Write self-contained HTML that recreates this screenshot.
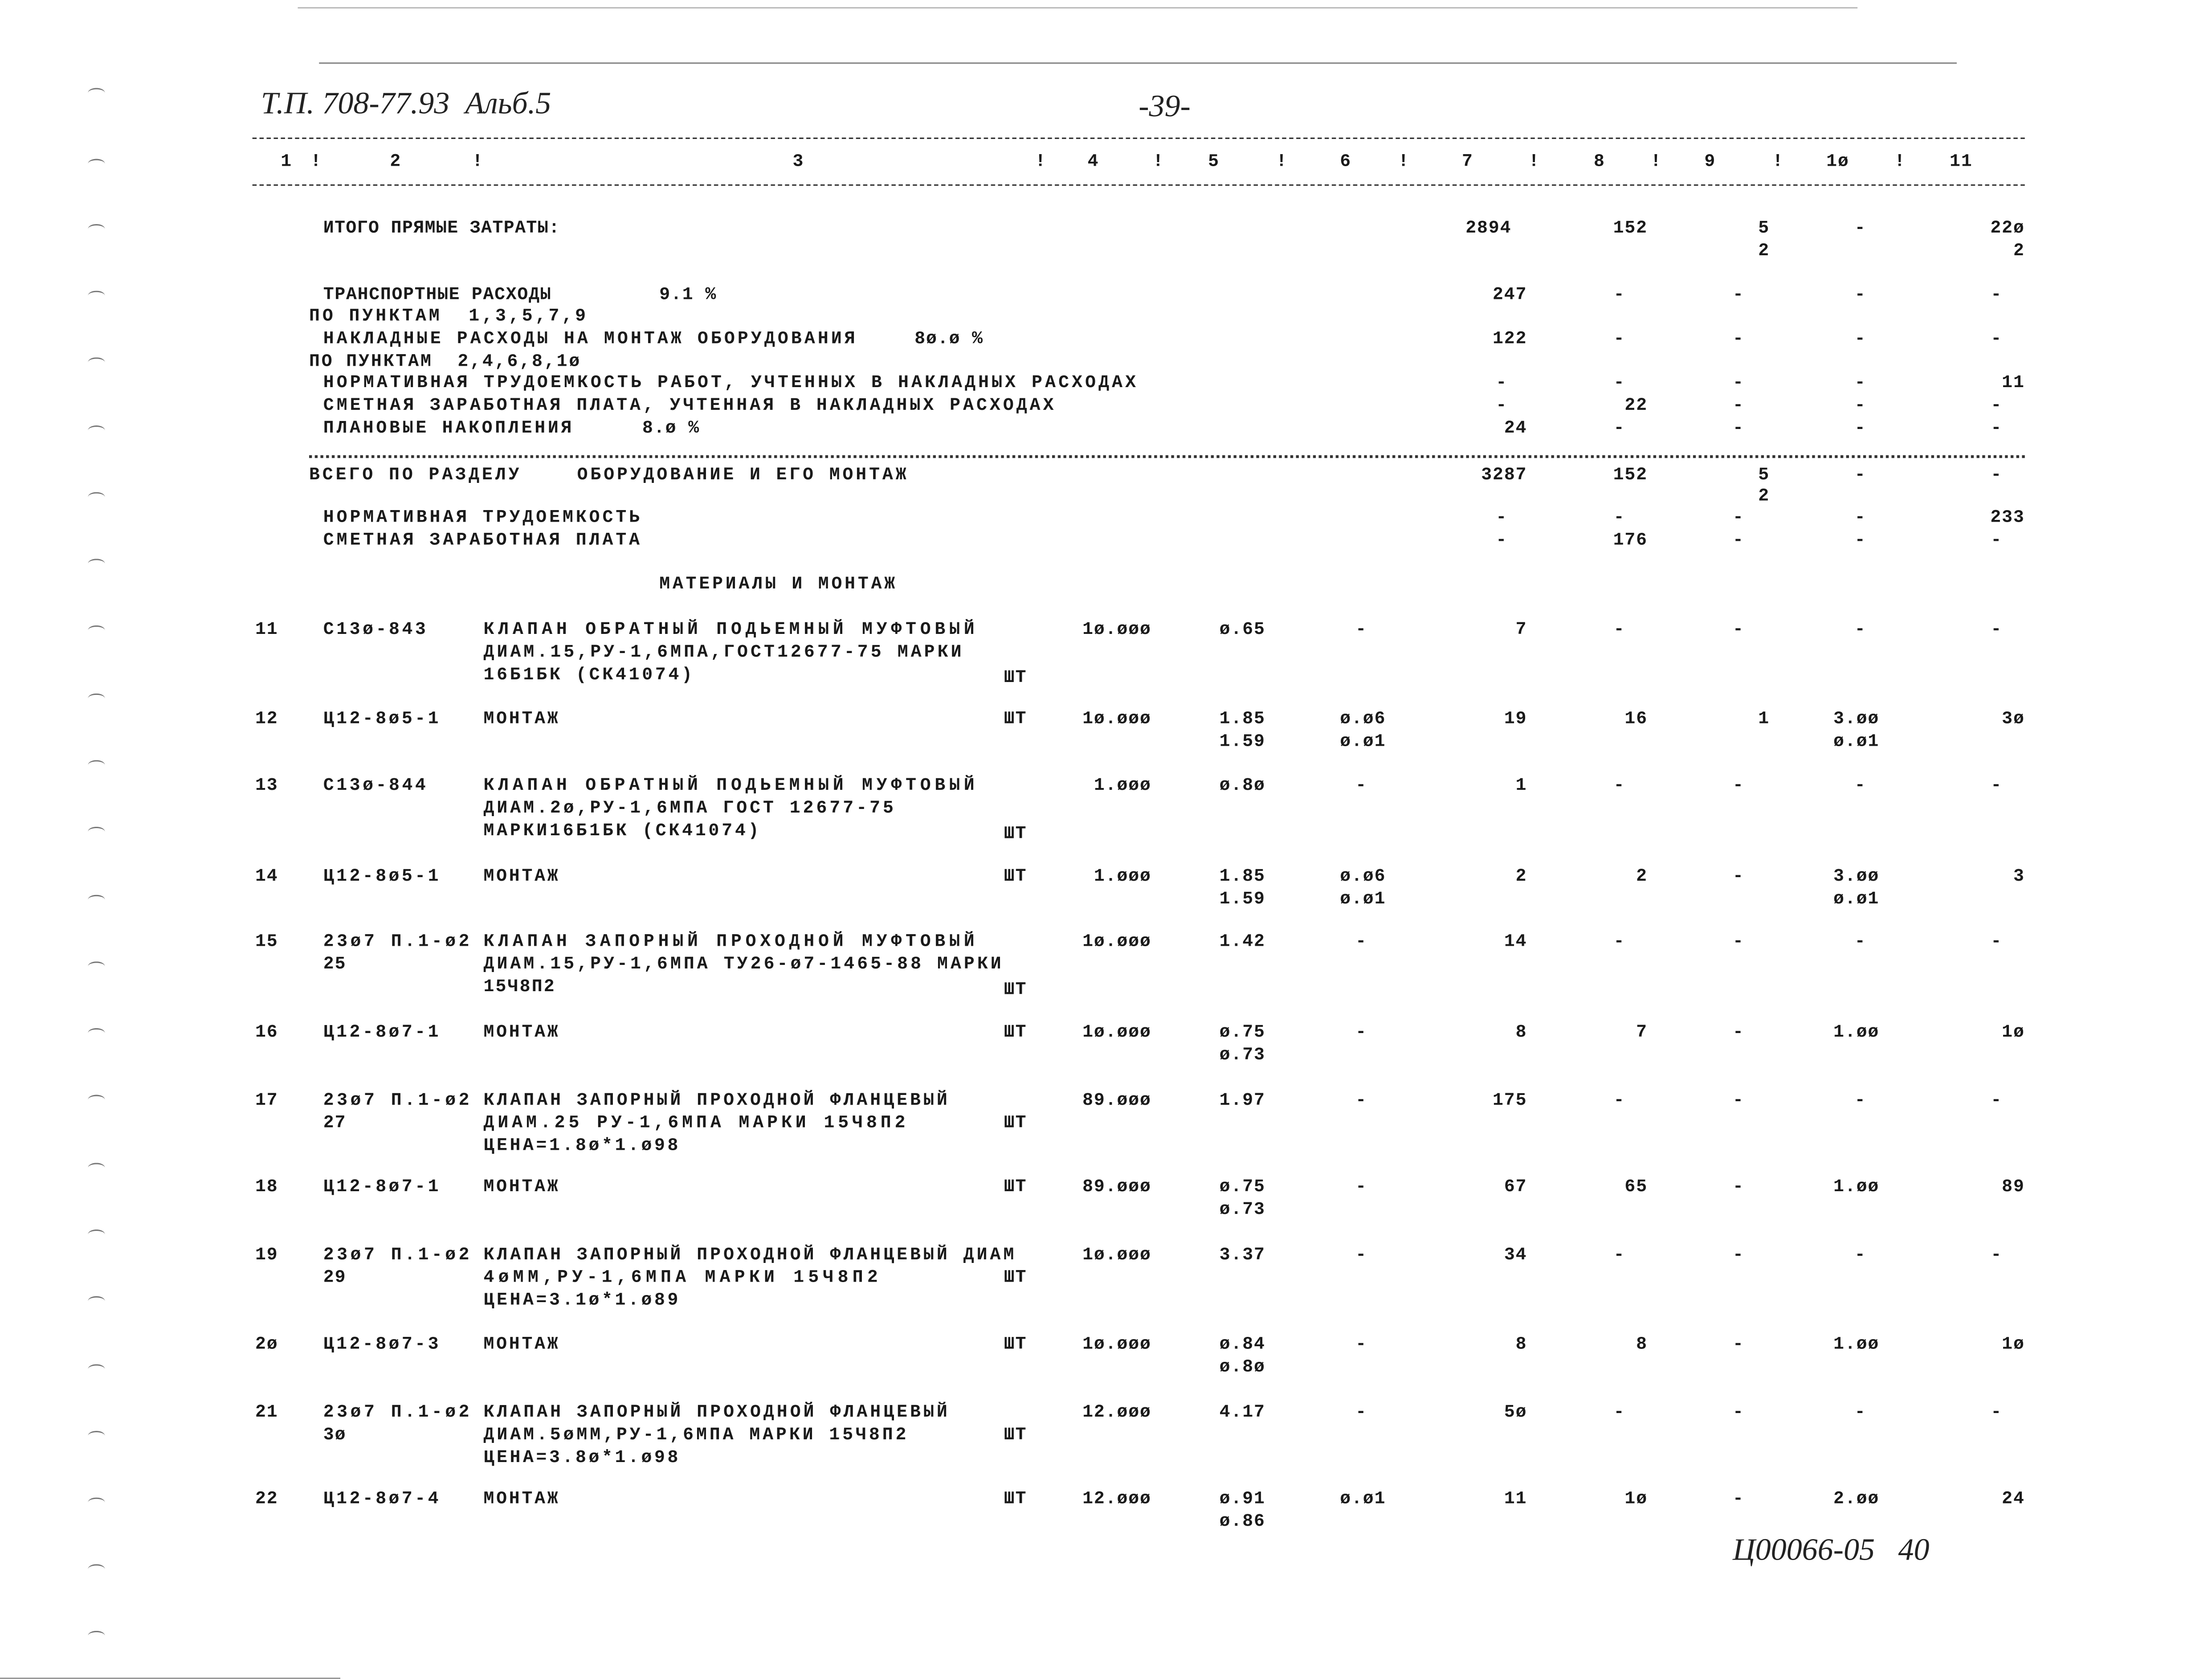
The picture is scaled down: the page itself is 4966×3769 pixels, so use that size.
<!DOCTYPE html>
<html><head><meta charset="utf-8"><style>
html,body{margin:0;padding:0;background:#fff;}
body{width:4966px;height:3751px;overflow:hidden;position:relative;}
#w{position:absolute;left:0;top:0;width:1560px;height:1178px;transform:scale(3.1833);transform-origin:0 0;}
.t{position:absolute;white-space:pre;font-family:"Liberation Mono","DejaVu Sans Mono",monospace;font-size:12.5px;letter-spacing:0.6px;font-weight:bold;color:#1a1a1a;line-height:15.6px;}
.r{text-align:right;}
.h{position:absolute;height:0;border-top:1.5px dashed #333;}
.hd{position:absolute;height:0;border-top:2px dotted #333;}
.hw{position:absolute;font-family:"Liberation Serif",serif;font-style:italic;font-size:22px;color:#222;white-space:pre;}
.ln{position:absolute;height:0;border-top:1px solid #999;}
.m{position:absolute;width:12px;height:6px;border-top:1.5px solid #777;border-radius:50% 50% 0 0;}
</style></head><body><div id="w">
<div class="ln" style="left:210px;top:5px;width:1100px;border-color:#bbb"></div>
<div class="ln" style="left:225px;top:44px;width:1155px;border-color:#888"></div>
<div class="ln" style="left:0;top:1183px;width:240px;"></div>
<div class="m" style="left:62px;top:62px"></div><div class="m" style="left:62px;top:112px"></div><div class="m" style="left:62px;top:158px"></div><div class="m" style="left:62px;top:205px"></div><div class="m" style="left:62px;top:252px"></div><div class="m" style="left:62px;top:300px"></div><div class="m" style="left:62px;top:347px"></div><div class="m" style="left:62px;top:394px"></div><div class="m" style="left:62px;top:441px"></div><div class="m" style="left:62px;top:489px"></div><div class="m" style="left:62px;top:536px"></div><div class="m" style="left:62px;top:583px"></div><div class="m" style="left:62px;top:631px"></div><div class="m" style="left:62px;top:678px"></div><div class="m" style="left:62px;top:725px"></div><div class="m" style="left:62px;top:772px"></div><div class="m" style="left:62px;top:820px"></div><div class="m" style="left:62px;top:867px"></div><div class="m" style="left:62px;top:914px"></div><div class="m" style="left:62px;top:962px"></div><div class="m" style="left:62px;top:1009px"></div><div class="m" style="left:62px;top:1056px"></div><div class="m" style="left:62px;top:1103px"></div><div class="m" style="left:62px;top:1150px"></div>
<div class="hw" style="left:184px;top:60px">Т.П. 708-77.93  Альб.5</div>
<div class="hw" style="left:803px;top:62px">-39-</div>
<div class="hw" style="left:1222px;top:1080px">Ц00066-05   40</div>
<div class="h" style="left:178px;top:97px;width:1250px"></div>
<div class="h" style="left:178px;top:130px;width:1250px"></div>
<div class="hd" style="left:218px;top:321px;width:1210px"></div>
</div>
<script>
var W=document.getElementById('w');
function T(x,y,s,r,e){var d=document.createElement('div');d.className='t'+(r?' r':'');d.textContent=s;d.style.top=(y-8)+'px';if(r){d.style.right=(1560-x)+'px';}else d.style.left=x+'px';W.appendChild(d);
if(e&&!r){var nw=d.getBoundingClientRect().width/3.1833;var ls=0.6+(e-x-nw)/s.length;d.style.letterSpacing=ls+'px';}}
function D(y,xs){xs.forEach(function(x){T(x,y,'-');});}
[[198,'1'],[219,'!'],[275,'2'],[333,'!'],[559,'3'],[730,'!'],[767,'4'],[813,'!'],[852,'5'],[900,'!'],[945,'6'],[986,'!'],[1031,'7'],[1078,'!'],[1124,'8'],[1164,'!'],[1202,'9'],[1250,'!'],[1288,'1ø'],[1336,'!'],[1375,'11']].forEach(function(a){T(a[0],115,a[1]);});
T(228,162,'ИТОГО ПРЯМЫЕ ЗАТРАТЫ:',0,395);T(1066,162,'2894',1);T(1162,162,'152',1);T(1240,162,'5');D(162,[1308]);T(1428,162,'22ø',1);T(1240,178,'2');T(1428,178,'2',1);
T(228,209,'ТРАНСПОРТНЫЕ РАСХОДЫ',0,389);T(465,209,'9.1 %');T(1077,209,'247',1);D(209,[1138,1222,1308,1404]);
T(218,224,'ПО ПУНКТАМ  1,3,5,7,9',0,415);
T(228,240,'НАКЛАДНЫЕ РАСХОДЫ НА МОНТАЖ ОБОРУДОВАНИЯ',0,605);T(645,240,'8ø.ø %');T(1077,240,'122',1);D(240,[1138,1222,1308,1404]);
T(218,256,'ПО ПУНКТАМ  2,4,6,8,1ø',0,410);
T(228,271,'НОРМАТИВНАЯ ТРУДОЕМКОСТЬ РАБОТ, УЧТЕННЫХ В НАКЛАДНЫХ РАСХОДАХ',0,803);D(271,[1055,1138,1222,1308]);T(1428,271,'11',1);
T(228,287,'СМЕТНАЯ ЗАРАБОТНАЯ ПЛАТА, УЧТЕННАЯ В НАКЛАДНЫХ РАСХОДАХ',0,745);D(287,[1055,1222,1308,1404]);T(1162,287,'22',1);
T(228,303,'ПЛАНОВЫЕ НАКОПЛЕНИЯ',0,405);T(453,303,'8.ø %');T(1077,303,'24',1);D(303,[1138,1222,1308,1404]);
T(218,336,'ВСЕГО ПО РАЗДЕЛУ',0,368);T(407,336,'ОБОРУДОВАНИЕ И ЕГО МОНТАЖ',0,641);T(1077,336,'3287',1);T(1162,336,'152',1);T(1240,336,'5');D(336,[1308,1404]);T(1240,351,'2');
T(228,366,'НОРМАТИВНАЯ ТРУДОЕМКОСТЬ',0,453);D(366,[1055,1138,1222,1308]);T(1428,366,'233',1);
T(228,382,'СМЕТНАЯ ЗАРАБОТНАЯ ПЛАТА',0,453);D(382,[1055,1222,1308,1404]);T(1162,382,'176',1);
T(465,413,'МАТЕРИАЛЫ И МОНТАЖ',0,633);
function M(y,n,code,qty,a,b,c,d,e6,v7,v8,v9,v10a,v10b,v11){T(180,y,n);T(228,y,code,0,311);T(341,y,'МОНТАЖ',0,395);T(708,y,'ШТ');T(812,y,qty,1);T(860,y,a);if(b)T(860,y+16,b);
if(c){T(945,y,c);if(d)T(945,y+16,d);}else D(y,[956]);
T(1077,y,v7,1);T(1162,y,v8,1);if(v9=='-')D(y,[1222]);else T(1240,y,v9);T(1293,y,v10a);if(v10b)T(1293,y+16,v10b);T(1428,y,v11,1);}
function P(y,n,code,ce,code2,lines,shty,qty,a,v7){T(180,y,n);T(228,y,code,0,ce);if(code2)T(228,y+16,code2);lines.forEach(function(l,i){T(341,y+i*16,l[0],0,l[1]);});T(708,shty,'ШТ');T(812,y,qty,1);T(860,y,a);D(y,[956]);T(1077,y,v7,1);D(y,[1138,1222,1308,1404]);}
P(445,'11','С13ø-843',302,'',[['КЛАПАН ОБРАТНЫЙ ПОДЬЕМНЫЙ МУФТОВЫЙ',690],['ДИАМ.15,РУ-1,6МПА,ГОСТ12677-75 МАРКИ',680],['16Б1БК (СК41074)',490]],479,'1ø.øøø','ø.65','7');
M(508,'12','Ц12-8ø5-1','1ø.øøø','1.85','1.59','ø.ø6','ø.ø1',0,'19','16','1','3.øø','ø.ø1','3ø');
P(555,'13','С13ø-844',302,'',[['КЛАПАН ОБРАТНЫЙ ПОДЬЕМНЫЙ МУФТОВЫЙ',690],['ДИАМ.2ø,РУ-1,6МПА ГОСТ 12677-75',632],['МАРКИ16Б1БК (СК41074)',537]],589,'1.øøø','ø.8ø','1');
M(619,'14','Ц12-8ø5-1','1.øøø','1.85','1.59','ø.ø6','ø.ø1',0,'2','2','-','3.øø','ø.ø1','3');
P(665,'15','23ø7 П.1-ø2',333,'25',[['КЛАПАН ЗАПОРНЫЙ ПРОХОДНОЙ МУФТОВЫЙ',690],['ДИАМ.15,РУ-1,6МПА ТУ26-ø7-1465-88 МАРКИ',708],['15Ч8П2',392]],699,'1ø.øøø','1.42','14');
M(729,'16','Ц12-8ø7-1','1ø.øøø','ø.75','ø.73','','',0,'8','7','-','1.øø','','1ø');
P(777,'17','23ø7 П.1-ø2',333,'27',[['КЛАПАН ЗАПОРНЫЙ ПРОХОДНОЙ ФЛАНЦЕВЫЙ',670],['ДИАМ.25 РУ-1,6МПА МАРКИ 15Ч8П2',641],['ЦЕНА=1.8ø*1.ø98',480]],793,'89.øøø','1.97','175');
M(838,'18','Ц12-8ø7-1','89.øøø','ø.75','ø.73','','',0,'67','65','-','1.øø','','89');
P(886,'19','23ø7 П.1-ø2',333,'29',[['КЛАПАН ЗАПОРНЫЙ ПРОХОДНОЙ ФЛАНЦЕВЫЙ ДИАМ',717],['4øММ,РУ-1,6МПА МАРКИ 15Ч8П2',622],['ЦЕНА=3.1ø*1.ø89',480]],902,'1ø.øøø','3.37','34');
M(949,'2ø','Ц12-8ø7-3','1ø.øøø','ø.84','ø.8ø','','',0,'8','8','-','1.øø','','1ø');
P(997,'21','23ø7 П.1-ø2',333,'3ø',[['КЛАПАН ЗАПОРНЫЙ ПРОХОДНОЙ ФЛАНЦЕВЫЙ',670],['ДИАМ.5øММ,РУ-1,6МПА МАРКИ 15Ч8П2',641],['ЦЕНА=3.8ø*1.ø98',480]],1013,'12.øøø','4.17','5ø');
M(1058,'22','Ц12-8ø7-4','12.øøø','ø.91','ø.86','ø.ø1','',0,'11','1ø','-','2.øø','','24');
</script>
</body></html>
